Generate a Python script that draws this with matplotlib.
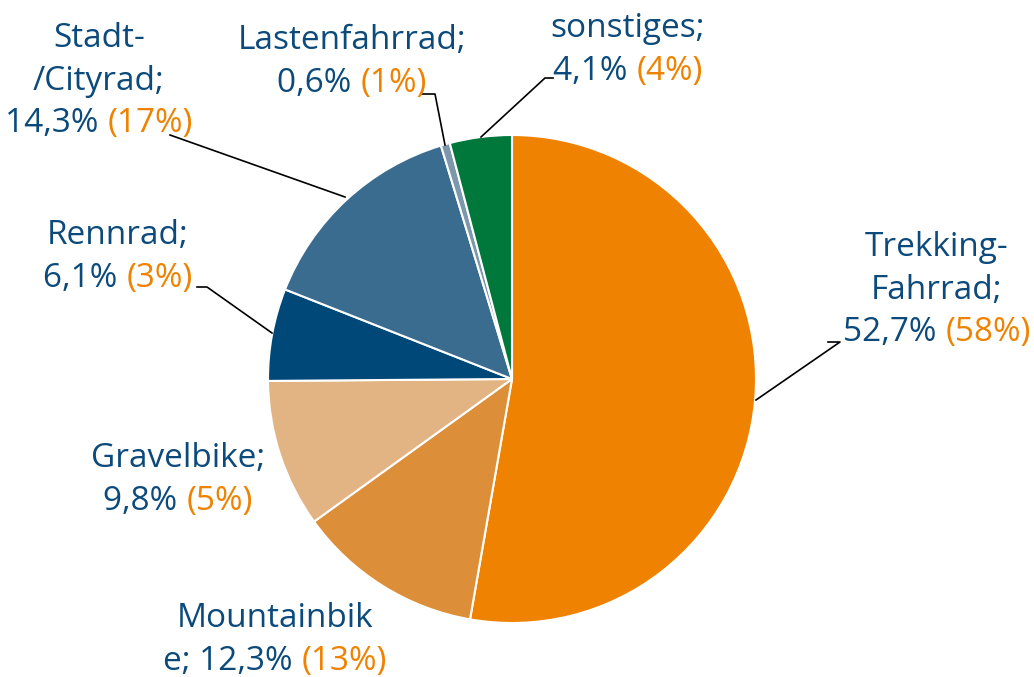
import matplotlib.pyplot as plt
from matplotlib.offsetbox import TextArea, HPacker, VPacker, AnnotationBbox

# data
categories = ['Trekking-\nFahrrad', 'Mountainbik\ne', 'Gravelbike', 'Rennrad',
              'Stadt-\n/Cityrad', 'Lastenfahrrad', 'sonstiges']
shares = [52.7, 12.3, 9.8, 6.1, 14.3, 0.6, 4.1]
prev_shares = [58, 13, 5, 3, 17, 1, 4]
colors = ['#EF8200', '#DC8F38', '#E2B483', '#004877', '#3A6C8F', '#7D98AB', '#00783C']

blue = '#0B4A7A'
orange = '#EF8200'
W, H = 1034, 677

plt.rcParams['font.family'] = ['Open Sans', 'DejaVu Sans']
fs = 24

fig = plt.figure(figsize=(W / 100, H / 100), dpi=100)
ax = fig.add_axes([0, 0, 1, 1])

cx, cy, r = 512, H - 379, 244
wedges, _ = ax.pie(shares, colors=colors, startangle=90, counterclock=False,
                   center=(cx, cy), radius=r, frame=True,
                   wedgeprops=dict(edgecolor='white', linewidth=1.5))
ax.set_xlim(0, W)
ax.set_ylim(0, H)
ax.axis('off')

# label block centres (pixels, top-origin) and leader lines
label_pos = [(937, 290), (275, 640), (178, 480), (118, 257), (99, 81), (352, 62), (628, 50)]
leaders = [
    [(828, 342), (840, 342), (756, 400)],
    None,
    None,
    [(197, 287), (207, 287), (272, 333)],
    [(170, 135), (345, 197)],
    [(422, 94), (435, 94), (445, 145)],
    [(553, 78), (545, 78), (481, 137)],
]

for i, cat in enumerate(categories):
    lines = cat.split('\n')
    last = lines[-1]
    head = lines[:-1]
    pct = f'{shares[i]:.1f}%'.replace('.', ',')
    rows = [TextArea(l, textprops=dict(color=blue, size=fs)) for l in head]
    if cat.startswith('Mountain'):
        blue_part = last + '; ' + pct + ' '
    else:
        rows.append(TextArea(last + ';', textprops=dict(color=blue, size=fs)))
        blue_part = pct + ' '
    rows.append(HPacker(children=[
        TextArea(blue_part, textprops=dict(color=blue, size=fs)),
        TextArea(f'({prev_shares[i]}%)', textprops=dict(color=orange, size=fs))],
        align='baseline', pad=0, sep=0))
    box = VPacker(children=rows, align='center', pad=0, sep=7)
    x, y = label_pos[i]
    ab = AnnotationBbox(box, (x, H - y), frameon=False, box_alignment=(0.5, 0.5))
    ax.add_artist(ab)
    if leaders[i]:
        xs = [p[0] for p in leaders[i]]
        ys = [H - p[1] for p in leaders[i]]
        ax.plot(xs, ys, color='black', linewidth=1.2)

plt.savefig('out.png', dpi=100)
